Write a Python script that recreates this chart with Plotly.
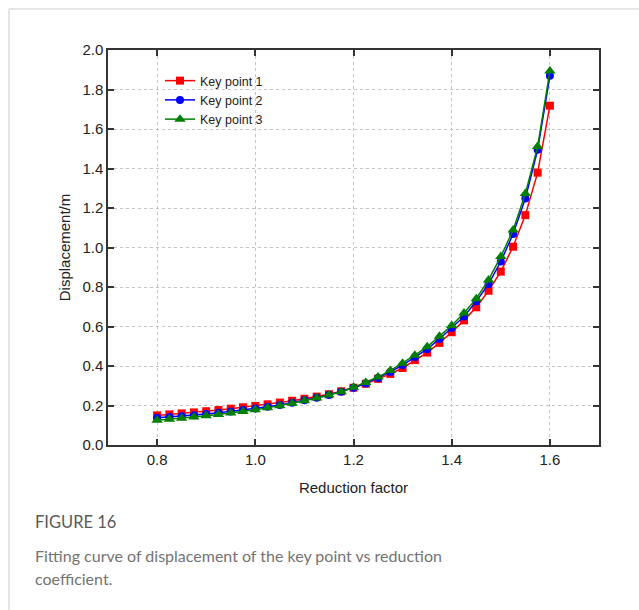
import plotly.graph_objects as go

reduction_factor = [0.8, 0.825, 0.85, 0.875, 0.9, 0.925, 0.95, 0.975, 1.0, 1.025, 1.05,
                    1.075, 1.1, 1.125, 1.15, 1.175, 1.2, 1.225, 1.25, 1.275, 1.3, 1.325,
                    1.35, 1.375, 1.4, 1.425, 1.45, 1.475, 1.5, 1.525, 1.55, 1.575, 1.6]

key_point_1 = [0.150, 0.155, 0.160, 0.165, 0.171, 0.177, 0.184, 0.191, 0.198, 0.206, 0.215,
               0.224, 0.234, 0.245, 0.257, 0.272, 0.290, 0.310, 0.335, 0.360, 0.390, 0.430,
               0.468, 0.517, 0.571, 0.631, 0.697, 0.781, 0.878, 1.004, 1.164, 1.379, 1.718]

key_point_2 = [0.138, 0.142, 0.146, 0.151, 0.157, 0.163, 0.170, 0.177, 0.185, 0.194, 0.203,
               0.214, 0.226, 0.239, 0.253, 0.270, 0.290, 0.312, 0.339, 0.370, 0.405, 0.445,
               0.485, 0.537, 0.593, 0.651, 0.727, 0.815, 0.929, 1.068, 1.248, 1.495, 1.869]

key_point_3 = [0.125, 0.130, 0.136, 0.142, 0.148, 0.155, 0.162, 0.170, 0.178, 0.188, 0.199,
               0.211, 0.224, 0.238, 0.253, 0.270, 0.292, 0.316, 0.344, 0.377, 0.414, 0.455,
               0.497, 0.551, 0.605, 0.668, 0.741, 0.836, 0.954, 1.088, 1.273, 1.511, 1.894]

series_names = ["Key point 1", "Key point 2", "Key point 3"]
series_colors = ["#ff0000", "#0000ff", "#008000"]
series_symbols = ["square", "circle", "triangle-up"]
series_sizes = [8, 8, 10]

x_ticks = [0.8, 1.0, 1.2, 1.4, 1.6]
y_ticks = [0.0, 0.2, 0.4, 0.6, 0.8, 1.0, 1.2, 1.4, 1.6, 1.8, 2.0]

fig = go.Figure()
for name, ys, col, sym, sz in zip(series_names, [key_point_1, key_point_2, key_point_3],
                                  series_colors, series_symbols, series_sizes):
    fig.add_trace(go.Scatter(
        x=reduction_factor, y=ys, name=name, mode="lines+markers",
        line=dict(color=col, width=1.5),
        marker=dict(color=col, symbol=sym, size=sz),
    ))

# pixel -> paper helpers (plot area: x 108..599, y 50..445)
L, R, T, B = 108, 599, 50, 445
def px(x):
    return (x - L) / (R - L)
def py(y):
    return (B - y) / (B - T)

FONT = "Liberation Sans, Arial"
axis_common = dict(
    showline=True, linecolor="#333333", linewidth=1.5, mirror="ticks",
    ticks="inside", ticklen=6, tickwidth=1.5, tickcolor="#333333",
    showgrid=True, gridcolor="#c4c4c4", griddash="dot", gridwidth=1,
    zeroline=False,
    tickfont=dict(family=FONT, size=15, color="#222222"),
)

fig.update_layout(
    width=639, height=610,
    margin=dict(l=L, r=639 - R, t=T, b=610 - B),
    paper_bgcolor="white", plot_bgcolor="white",
    xaxis=dict(range=[0.7, 1.7], tickvals=x_ticks, ticktext=[f"{v:.1f}" for v in x_ticks],
               title=dict(text="Reduction factor", standoff=16,
                          font=dict(family=FONT, size=15, color="#222222")),
               **axis_common),
    yaxis=dict(range=[0, 2.0], tickvals=y_ticks, ticktext=[f"{v:.1f}" for v in y_ticks],
               title=dict(text="Displacement/m", standoff=8,
                          font=dict(family=FONT, size=15, color="#222222")),
               **axis_common),
    legend=dict(x=px(160), y=py(66), xanchor="left", yanchor="top",
                bgcolor="rgba(0,0,0,0)", borderwidth=0,
                font=dict(family=FONT, size=12.5, color="#222222"),
                itemwidth=30, tracegroupgap=0),
    showlegend=True,
)

# card border lines
fig.add_shape(type="line", xref="paper", yref="paper", x0=px(9), x1=px(639), y0=py(9), y1=py(9),
              line=dict(color="#dddddd", width=1.5))
fig.add_shape(type="line", xref="paper", yref="paper", x0=px(9), x1=px(9), y0=py(9), y1=py(610),
              line=dict(color="#dddddd", width=1.5))

CAP_FONT = "Lato"
fig.add_annotation(xref="paper", yref="paper", x=px(33), y=py(522), xanchor="left", yanchor="middle",
                   text="FIGURE 16", showarrow=False,
                   font=dict(family=CAP_FONT, size=16.5, color="#5a5a5a"))
fig.add_annotation(xref="paper", yref="paper", x=px(33), y=py(555), xanchor="left", yanchor="middle",
                   text="Fitting curve of displacement of the key point vs reduction", showarrow=False,
                   font=dict(family=CAP_FONT, size=16, color="#737373"))
fig.add_annotation(xref="paper", yref="paper", x=px(33), y=py(578), xanchor="left", yanchor="middle",
                   text="coefficient.", showarrow=False,
                   font=dict(family=CAP_FONT, size=16, color="#737373"))

fig.write_html("out.html")
